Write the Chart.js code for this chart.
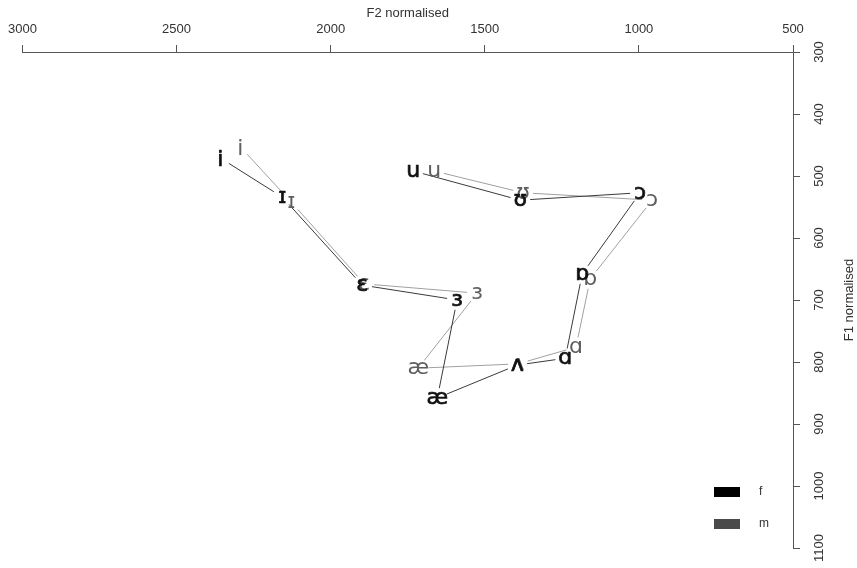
<!DOCTYPE html>
<html>
<head>
<meta charset="utf-8">
<script src="https://cdn.jsdelivr.net/npm/chart.js@4.4.1/dist/chart.umd.min.js"></script>
<style>
  html, body { margin: 0; padding: 0; background: #ffffff; }
  #wrap { width: 857px; height: 568px; }
</style>
</head>
<body>
<div id="wrap"><canvas id="c" width="857" height="568"></canvas></div>
<script>
// Vowel trajectory: mean normalised formants per vowel, female (f) and male (m) speakers
const vowels   = ['i', 'ɪ', 'ɛ', 'ɜ', 'æ', 'ʌ', 'ɑ', 'ɒ', 'ɔ', 'ʊ', 'u'];
const f2Female = [2358, 2157, 1898, 1590, 1654, 1395, 1239, 1184,  996, 1385, 1732];
const f1Female = [ 471,  534,  676,  700,  858,  805,  794,  658,  527,  539,  492];
const f2Male   = [2293, 2128, 1891, 1525, 1716, 1392, 1204, 1158,  957, 1376, 1664];
const f1Male   = [ 453,  542,  674,  689,  810,  803,  776,  666,  539,  527,  492];
const f2Ticks  = [3000, 2500, 2000, 1500, 1000, 500];
const f1Ticks  = [300, 400, 500, 600, 700, 800, 900, 1000, 1100];
const groups   = ['f', 'm'];

const AXIS_COLOR = '#555555';
const TEXT_COLOR = '#333333';
const FAMILY = '"Liberation Sans", Arial, sans-serif';
const TICK_FONT = '13px ' + FAMILY;
const VOWEL_FONT = '22px "DejaVu Sans", sans-serif';

const toPoints = (xs, ys) => xs.map((x, i) => ({ x: x, y: ys[i] }));

const style = {
  f: { line: '#3a3a3a', text: '#111111', box: '#000000', weight: 0.7 },
  m: { line: '#a0a0a0', text: '#5e5e5e', box: '#4a4a4a', weight: 0 }
};

// Lines between successive vowels with a gap round each symbol, then the symbols
const vowelPlot = {
  id: 'vowelPlot',
  afterDatasetsDraw(chart) {
    const ctx = chart.ctx;
    const xs = chart.scales.x, ys = chart.scales.y;
    const gap = 10;
    const order = [1, 0]; // male underneath, female on top
    order.forEach(di => {
      const ds = chart.data.datasets[di];
      const st = style[ds.label];
      const pts = ds.data.map(p => ({ x: xs.getPixelForValue(p.x), y: ys.getPixelForValue(p.y) }));
      ctx.save();
      ctx.strokeStyle = st.line;
      ctx.lineWidth = 1;
      for (let i = 0; i < pts.length - 1; i++) {
        const a = pts[i], b = pts[i + 1];
        const dx = b.x - a.x, dy = b.y - a.y;
        const d = Math.hypot(dx, dy);
        if (d <= 2 * gap) continue;
        const ux = dx / d, uy = dy / d;
        ctx.beginPath();
        ctx.moveTo(a.x + ux * gap, a.y + uy * gap);
        ctx.lineTo(b.x - ux * gap, b.y - uy * gap);
        ctx.stroke();
      }
      ctx.restore();
    });
    order.forEach(di => {
      const ds = chart.data.datasets[di];
      const st = style[ds.label];
      ctx.save();
      ctx.font = VOWEL_FONT;
      ctx.fillStyle = st.text;
      ctx.strokeStyle = st.text;
      ctx.lineWidth = st.weight;
      ctx.lineJoin = 'round';
      ctx.textAlign = 'center';
      ctx.textBaseline = 'alphabetic';
      ds.data.forEach((p, i) => {
        const px = xs.getPixelForValue(p.x), py = ys.getPixelForValue(p.y);
        const m = ctx.measureText(vowels[i]);
        const off = (m.actualBoundingBoxAscent - m.actualBoundingBoxDescent) / 2;
        ctx.fillText(vowels[i], px, py + off);
        if (st.weight > 0) ctx.strokeText(vowels[i], px, py + off);
      });
      ctx.restore();
    });
  },
  afterDraw(chart) {
    const ctx = chart.ctx;
    const ys = chart.scales.y;
    const area = chart.chartArea;
    // right-hand F1 tick labels, written along the axis
    ctx.save();
    ctx.font = TICK_FONT;
    ctx.fillStyle = TEXT_COLOR;
    ctx.textAlign = 'center';
    ctx.textBaseline = 'middle';
    f1Ticks.forEach(v => {
      const y = ys.getPixelForValue(v);
      ctx.save();
      ctx.translate(area.right + 26, y);
      ctx.rotate(-Math.PI / 2);
      ctx.fillText(String(v), 0, 0);
      ctx.restore();
    });
    // axis title
    ctx.save();
    ctx.translate(area.right + 56, (area.top + area.bottom) / 2);
    ctx.rotate(-Math.PI / 2);
    ctx.fillText('F1 normalised', 0, 0);
    ctx.restore();
    ctx.restore();

    // legend
    ctx.save();
    ctx.font = '12px ' + FAMILY;
    ctx.textAlign = 'left';
    ctx.textBaseline = 'middle';
    const lx = area.right - 79, ly = area.top + 440;
    groups.forEach((g, k) => {
      const y = ly + k * 32;
      ctx.fillStyle = style[g].box;
      ctx.fillRect(lx, y - 5, 26, 10);
      ctx.fillStyle = TEXT_COLOR;
      ctx.fillText(g, lx + 45, y);
    });
    ctx.restore();
  }
};

new Chart(document.getElementById('c'), {
  type: 'scatter',
  data: {
    datasets: [
      { label: 'f', data: toPoints(f2Female, f1Female), pointRadius: 0, showLine: false },
      { label: 'm', data: toPoints(f2Male, f1Male), pointRadius: 0, showLine: false }
    ]
  },
  options: {
    responsive: false,
    animation: false,
    devicePixelRatio: 1,
    layout: { padding: { left: 22, right: 0, top: 0, bottom: 20 } },
    plugins: { legend: { display: false }, tooltip: { enabled: false } },
    scales: {
      x: {
        type: 'linear',
        position: 'top',
        reverse: true,
        min: 500,
        max: 3000,
        afterBuildTicks: s => { s.ticks = f2Ticks.map(v => ({ value: v })); },
        afterFit: s => { s.height = 52; },
        grid: { drawOnChartArea: false, drawTicks: true, tickLength: 7, tickColor: AXIS_COLOR, lineWidth: 1 },
        border: { display: true, color: AXIS_COLOR, width: 1 },
        ticks: {
          color: TEXT_COLOR,
          font: { family: FAMILY, size: 13 },
          padding: 8,
          maxRotation: 0,
          callback: v => String(v)
        },
        title: { display: true, text: 'F2 normalised', color: TEXT_COLOR, font: { family: FAMILY, size: 13 }, padding: { top: 6, bottom: 0 } }
      },
      y: {
        type: 'linear',
        position: 'right',
        reverse: true,
        min: 300,
        max: 1100,
        afterBuildTicks: s => { s.ticks = f1Ticks.map(v => ({ value: v })); },
        afterFit: s => { s.width = 64; },
        grid: { drawOnChartArea: false, drawTicks: true, tickLength: 7, tickColor: AXIS_COLOR, lineWidth: 1 },
        border: { display: true, color: AXIS_COLOR, width: 1 },
        ticks: { display: false }
      }
    }
  },
  plugins: [vowelPlot]
});
</script>
</body>
</html>
